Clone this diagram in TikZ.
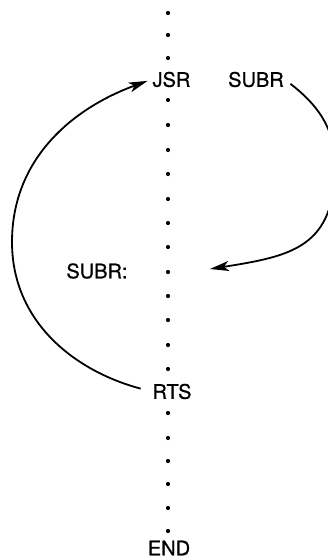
\documentclass[tikz,border=0pt]{standalone}
\usepackage{fontspec}
\setmainfont{TeX Gyre Heros}
\newfontfamily\lblfont[FakeBold=0.8]{TeX Gyre Heros}
\usetikzlibrary{arrows.meta}
\begin{document}
\begin{tikzpicture}[x=1pt,y=-1pt,
  lbl/.style={font=\lblfont\fontsize{20}{24}\selectfont, inner sep=1pt},
  dotmark/.style={circle, fill=black, inner sep=0pt, minimum size=4.2pt},
  flow/.style={line width=1.8pt, -{Stealth[length=19pt,width=10pt,inset=5pt]}}]
\useasboundingbox (0,0) rectangle (327,560);
% dots
\foreach \y [count=\i] in {13,35,58,100,125,150,174,199,223,247,272,296,320,345,369,413,438,461,484,508,531}
  \node[dotmark] (d\i) at (168,\y) {};
\node[lbl] (JSR) at (171.5,79.5) {JSR};
\node[lbl] (SUBRcall) at (256,79.5) {SUBR};
\node[lbl] (SUBRlab) at (97,271) {SUBR:};
\node[lbl] (RTS) at (172,391.5) {RTS};
\node[lbl] (END) at (169,548) {END};
\coordinate (R) at (335,165);
\coordinate (L) at (12,242);
\coordinate (entry) at (210,269);
\draw[flow, shorten <=7pt] (SUBRcall.east) to[out=-38,in=90] (R) to[out=-90,in=9,looseness=1.3] (entry);
\draw[flow, shorten <=11pt, shorten >=4pt] (RTS.west) to[out=165,in=-90] (L) to[out=90,in=200] (JSR.west);
\end{tikzpicture}
\end{document}
